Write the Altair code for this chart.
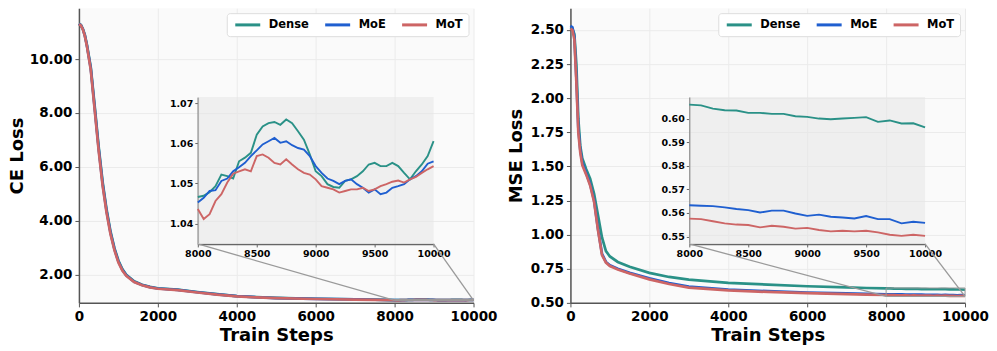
import altair as alt
import pandas as pd

SERIES = ["Dense", "MoE", "MoT"]
COLORS = ["#2a9187", "#1f5fd0", "#cd6565"]

# ---------------- CE loss (left) ----------------
ce_steps = [0, 50, 100, 150, 200, 300, 400, 500, 600, 700, 800, 900, 1000, 1100,
            1200, 1400, 1600, 1800, 2000, 2500, 3000, 3500, 4000, 4500, 5000, 6000, 7000, 7500]
ce_dense = [11.32, 11.27, 11.12, 10.9, 10.55, 9.7, 8.25, 6.75, 5.45, 4.42, 3.6, 2.98, 2.52, 2.2,
            1.99, 1.75, 1.62, 1.54, 1.49, 1.44, 1.35, 1.27, 1.2, 1.16, 1.13, 1.1, 1.08, 1.065]
ce_moe = [11.31, 11.26, 11.11, 10.87, 10.52, 9.65, 8.17, 6.67, 5.37, 4.36, 3.55, 2.94, 2.48, 2.17,
          1.97, 1.73, 1.61, 1.53, 1.48, 1.43, 1.34, 1.26, 1.195, 1.155, 1.125, 1.095, 1.075, 1.062]
ce_mot = [11.3, 11.25, 11.1, 10.85, 10.5, 9.6, 8.1, 6.6, 5.3, 4.3, 3.5, 2.9, 2.45, 2.15,
          1.95, 1.72, 1.6, 1.52, 1.47, 1.42, 1.33, 1.25, 1.19, 1.15, 1.12, 1.09, 1.07, 1.06]

ce_zoom_steps = list(range(8000, 10001, 50))
ce_zoom_dense = [1.0466, 1.0469, 1.0478, 1.0493, 1.0522, 1.0518, 1.0512, 1.0555, 1.0564, 1.0576,
                 1.0621, 1.0642, 1.0650, 1.0653, 1.0646, 1.0659, 1.0650, 1.0630, 1.0609, 1.0572,
                 1.0530, 1.0518, 1.0498, 1.0491, 1.0489, 1.0506, 1.0510, 1.0518, 1.0530, 1.0547,
                 1.0551, 1.0543, 1.0543, 1.0551, 1.0543, 1.0526, 1.0510, 1.0530, 1.0547, 1.0568, 1.0605]
ce_zoom_moe = [1.0452, 1.0464, 1.0481, 1.0483, 1.0506, 1.0512, 1.0530, 1.0540, 1.0551, 1.0568,
               1.0582, 1.0597, 1.0605, 1.0613, 1.0601, 1.0605, 1.0595, 1.0588, 1.0584, 1.0568,
               1.0543, 1.0526, 1.0512, 1.0506, 1.0498, 1.0506, 1.0510, 1.0498, 1.0489, 1.0477,
               1.0485, 1.0473, 1.0477, 1.0489, 1.0493, 1.0498, 1.0510, 1.0518, 1.0530, 1.0549, 1.0555]
ce_zoom_mot = [1.0436, 1.0411, 1.0423, 1.0456, 1.0473, 1.0502, 1.0524, 1.0530, 1.0535, 1.0530,
               1.0568, 1.0572, 1.0564, 1.0551, 1.0547, 1.0560, 1.0547, 1.0535, 1.0526, 1.0522,
               1.0510, 1.0493, 1.0489, 1.0485, 1.0477, 1.0481, 1.0485, 1.0485, 1.0489, 1.0481,
               1.0485, 1.0493, 1.0498, 1.0504, 1.0507, 1.0502, 1.0510, 1.0516, 1.0526, 1.0535, 1.0543]

# ---------------- MSE loss (right) ----------------
mse_steps = [0, 50, 100, 150, 200, 250, 300, 400, 500, 600, 700, 800, 900, 1000, 1200,
             1500, 2000, 2500, 3000, 4000, 5000, 6000, 7000, 7500]
mse_dense = [2.52, 2.51, 2.47, 2.25, 1.85, 1.65, 1.56, 1.48, 1.41, 1.30, 1.14, 0.98, 0.88, 0.84, 0.80,
             0.765, 0.72, 0.69, 0.67, 0.646, 0.634, 0.622, 0.613, 0.609]
mse_moe = [2.53, 2.52, 2.45, 2.15, 1.78, 1.62, 1.53, 1.45, 1.37, 1.25, 1.04, 0.86, 0.80, 0.775, 0.75,
           0.72, 0.68, 0.645, 0.62, 0.598, 0.586, 0.576, 0.569, 0.566]
mse_mot = [2.51, 2.50, 2.43, 2.12, 1.75, 1.60, 1.51, 1.44, 1.36, 1.24, 1.03, 0.85, 0.795, 0.77, 0.745,
           0.715, 0.672, 0.638, 0.612, 0.592, 0.58, 0.571, 0.564, 0.561]

mse_zoom_steps = list(range(8000, 10001, 100))
mse_zoom_dense = [0.6059, 0.6056, 0.6042, 0.6035, 0.6034, 0.6024, 0.6024, 0.6020, 0.6020, 0.6010,
                  0.6007, 0.6000, 0.5997, 0.6000, 0.6003, 0.6006, 0.5986, 0.5992, 0.5979, 0.5980, 0.5963]
mse_zoom_moe = [0.5633, 0.5631, 0.5629, 0.5624, 0.5617, 0.5612, 0.5602, 0.5610, 0.5610, 0.5598,
                0.5588, 0.5593, 0.5584, 0.5581, 0.5577, 0.5587, 0.5574, 0.5574, 0.5556, 0.5563, 0.5558]
mse_zoom_mot = [0.5576, 0.5574, 0.5565, 0.5556, 0.5551, 0.5549, 0.5539, 0.5546, 0.5542, 0.5534,
                0.5537, 0.5528, 0.5522, 0.5525, 0.5522, 0.5525, 0.5518, 0.5508, 0.5503, 0.5508, 0.5503]


def long_df(steps, zsteps, early, zoom):
    rows = []
    for name, e, z in zip(SERIES, early, zoom):
        for s, v in zip(steps, e):
            rows.append({"step": s, "value": v, "series": name})
        for s, v in zip(zsteps, z):
            rows.append({"step": s, "value": v, "series": name})
    return pd.DataFrame(rows)


def zoom_df(zsteps, zoom):
    rows = []
    for name, z in zip(SERIES, zoom):
        for s, v in zip(zsteps, z):
            rows.append({"step": s, "value": v, "series": name})
    return pd.DataFrame(rows)


W, H = 395, 295
IX = [119, 355]
IY = [236, 89]
GREY = "#9a9a9a"


def panel(main_data, inset_data, ydom, yticks, ytitle, zdom, zticks, title_pad):
    color = alt.Color("series:N", scale=alt.Scale(domain=SERIES, range=COLORS),
                      legend=alt.Legend(title=None))
    xs = alt.Scale(domain=[0, 10000], nice=False, zero=False)
    ys = alt.Scale(domain=ydom, nice=False, zero=False)
    x_axis = alt.Axis(orient="bottom", values=[0, 2000, 4000, 6000, 8000, 10000],
                      format="d", title="Train Steps", titlePadding=3,
                      labelFlush=False, labelOverlap=False)
    y_axis = alt.Axis(orient="left", values=yticks, format=".2f", title=ytitle,
                      titlePadding=title_pad, labelOverlap=False)
    main = alt.Chart(main_data).mark_line(strokeWidth=2.7).encode(
        x=alt.X("step:Q", scale=xs, axis=x_axis),
        y=alt.Y("value:Q", scale=ys, axis=y_axis),
        color=color,
    )
    box_df = pd.DataFrame({"step": [8000], "step2": [10000],
                           "value": [zdom[0]], "value2": [zdom[1]]})
    box = alt.Chart(box_df).mark_rect(fillOpacity=0, stroke=GREY, strokeWidth=1).encode(
        x=alt.X("step:Q", scale=xs, axis=x_axis), x2="step2",
        y=alt.Y("value:Q", scale=ys, axis=y_axis), y2="value2")
    conn_l = alt.Chart(box_df).mark_rule(color=GREY, strokeWidth=1.3).encode(
        x=alt.X("step:Q", scale=xs, axis=x_axis),
        y=alt.Y("value:Q", scale=ys, axis=y_axis),
        x2=alt.value(IX[0]), y2=alt.value(IY[0]))
    conn_r = alt.Chart(box_df).mark_rule(color=GREY, strokeWidth=1.3).encode(
        x=alt.X("step2:Q", scale=xs, axis=x_axis),
        y=alt.Y("value:Q", scale=ys, axis=y_axis),
        x2=alt.value(IX[1]), y2=alt.value(IY[0]))

    ixs = alt.Scale(domain=[8000, 10000], range=IX, nice=False, zero=False)
    iys = alt.Scale(domain=zdom, range=IY, nice=False, zero=False)
    ix_axis = alt.Axis(orient="bottom", offset=-(H - IY[0]), values=[8000, 8500, 9000, 9500, 10000],
                       format="d", title=None, grid=False, labelFontSize=9.5, tickSize=3,
                       labelPadding=2, domainColor="#666", tickColor="#666", domainWidth=1.5,
                       labelFlush=False, labelOverlap=False)
    iy_axis = alt.Axis(orient="left", offset=-IX[0], values=zticks, format=".2f", title=None,
                       grid=False, labelFontSize=9.5, tickSize=3, labelPadding=2,
                       domainColor="#666", tickColor="#666", domainWidth=1.5, labelOverlap=False)
    bg = alt.Chart(box_df).mark_rect(fill="#e6e6e6", opacity=0.55).encode(
        x=alt.X("step:Q", scale=ixs, axis=ix_axis), x2="step2",
        y=alt.Y("value:Q", scale=iys, axis=iy_axis), y2="value2")
    ilines = alt.Chart(inset_data).mark_line(strokeWidth=1.9).encode(
        x=alt.X("step:Q", scale=ixs, axis=ix_axis),
        y=alt.Y("value:Q", scale=iys, axis=iy_axis),
        color=color,
    )
    return alt.layer(
        alt.layer(main, box, conn_l, conn_r),
        alt.layer(bg, ilines),
    ).resolve_scale(x="independent", y="independent").properties(width=W, height=H)


left = panel(
    long_df(ce_steps, ce_zoom_steps, [ce_dense, ce_moe, ce_mot],
            [ce_zoom_dense, ce_zoom_moe, ce_zoom_mot]),
    zoom_df(ce_zoom_steps, [ce_zoom_dense, ce_zoom_moe, ce_zoom_mot]),
    [0.946, 11.89], [2, 4, 6, 8, 10], "CE Loss",
    [1.0349, 1.0715], [1.04, 1.05, 1.06, 1.07], 3,
)
right = panel(
    long_df(mse_steps, mse_zoom_steps, [mse_dense, mse_moe, mse_mot],
            [mse_zoom_dense, mse_zoom_moe, mse_zoom_mot]),
    zoom_df(mse_zoom_steps, [mse_zoom_dense, mse_zoom_moe, mse_zoom_mot]),
    [0.5, 2.66], [0.5, 0.75, 1.0, 1.25, 1.5, 1.75, 2.0, 2.25, 2.5], "MSE Loss",
    [0.5469, 0.6091], [0.55, 0.56, 0.57, 0.58, 0.59, 0.60], 5,
)

chart = alt.hconcat(left, right, spacing=97, bounds="flush").resolve_legend(
    color="independent"
).properties(
    padding={"left": 0, "top": 0, "right": 0, "bottom": 0}
).configure_view(
    fill="#fafafa", stroke=None
).configure_axis(
    labelFont="DejaVu Sans", labelFontWeight="bold", labelFontSize=13.5, labelColor="#000",
    titleFont="DejaVu Sans", titleFontWeight="bold", titleFontSize=18, titleColor="#000",
    domainColor="#555", domainWidth=1.5, tickColor="#555", tickSize=4, tickWidth=1,
    labelPadding=3, gridColor="#ebebeb", gridWidth=1,
).configure_legend(
    orient="top-right", direction="horizontal", offset=5, fillColor="#ffffff",
    strokeColor="#dddddd", cornerRadius=3, padding=5,
    symbolType="M-0.6,0L4.4,0", symbolSize=100,
    symbolStrokeWidth=3, labelFont="DejaVu Sans", labelFontWeight="bold",
    labelFontSize=11.5, labelColor="#000", labelOffset=24, columnPadding=9,
)

chart.save("out.html", embed_options={"renderer": "svg", "actions": False})
